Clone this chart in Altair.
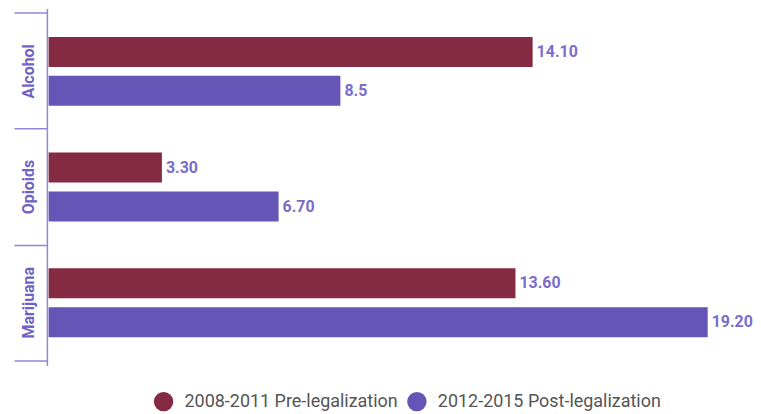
import altair as alt
import pandas as pd

categories = ["Alcohol", "Opioids", "Marijuana"]
series = ["2008-2011 Pre-legalization", "2012-2015 Post-legalization"]
pre_values = [14.10, 3.30, 13.60]
post_values = [8.5, 6.70, 19.20]
pre_labels = ["14.10", "3.30", "13.60"]
post_labels = ["8.5", "6.70", "19.20"]
colors = ["#842a42", "#6555b6"]

rows = []
for i, c in enumerate(categories):
    rows.append({"cat": c, "series": series[0], "value": pre_values[i], "label": pre_labels[i]})
    rows.append({"cat": c, "series": series[1], "value": post_values[i], "label": post_labels[i]})
df = pd.DataFrame(rows)

FONT = "Roboto"
axis_color = "#9088d6"
y_scale = alt.Scale(domain=categories, paddingInner=0, paddingOuter=0.043)

yoff = alt.YOffset("series:N", sort=series,
                   scale=alt.Scale(paddingInner=0.23, paddingOuter=0.6))
x_enc = alt.X("value:Q", scale=alt.Scale(domain=[-0.05, 19.3], nice=False), axis=None)

base = alt.Chart(df)

bars = base.mark_bar(cornerRadius=0).encode(
    y=alt.Y("cat:N", sort=categories, title=None, scale=y_scale,
            axis=alt.Axis(orient="left", labelAngle=270, labelAlign="center",
                          labelBaseline="bottom", labelFont=FONT, labelFontSize=16,
                          labelFontWeight="bold", labelColor="#6f62c4", labelPadding=10,
                          ticks=False, domainColor=axis_color, domainWidth=1.5,
                          grid=False)),
    yOffset=yoff, x=x_enc,
    color=alt.Color("series:N", sort=series,
                    scale=alt.Scale(domain=series, range=colors),
                    legend=alt.Legend(orient="none", legendX=107, legendY=384,
                                      title=None, direction="horizontal",
                                      symbolType="circle", symbolSize=380,
                                      symbolStrokeWidth=0, labelFont=FONT,
                                      labelFontSize=18, labelColor="#555555",
                                      labelOffset=11, columnPadding=9, labelLimit=400)),
)

texts = base.mark_text(align="left", baseline="middle", dx=4, font=FONT,
                       fontSize=16, fontWeight="bold", color="#7a6dcb").encode(
    y=alt.Y("cat:N", sort=categories, scale=y_scale, axis=None),
    yOffset=yoff, x=x_enc, text="label:N"
)

tick_axis = dict(orient="left", labels=False, tickSize=33, tickColor=axis_color,
                 tickWidth=1.5, domain=False, grid=False)

ticks_start = base.mark_bar(opacity=0).encode(
    y=alt.Y("cat:N", sort=categories, title=None, scale=y_scale,
            axis=alt.Axis(values=categories, bandPosition=0, **tick_axis)),
    yOffset=yoff, x=x_enc,
)

ticks_end = base.mark_bar(opacity=0).encode(
    y=alt.Y("cat:N", sort=categories, title=None, scale=y_scale,
            axis=alt.Axis(values=["Marijuana"], bandPosition=1, **tick_axis)),
    yOffset=yoff, x=x_enc,
)

chart = alt.layer(ticks_start, ticks_end, bars, texts).resolve_axis(y="independent").properties(
    width=666, height=358, background="white",
    padding={"left": 5, "top": 0, "right": 0, "bottom": 0},
).configure_view(stroke=None, strokeWidth=0)

chart.save("out.html", embed_options={"renderer": "svg", "actions": False})
